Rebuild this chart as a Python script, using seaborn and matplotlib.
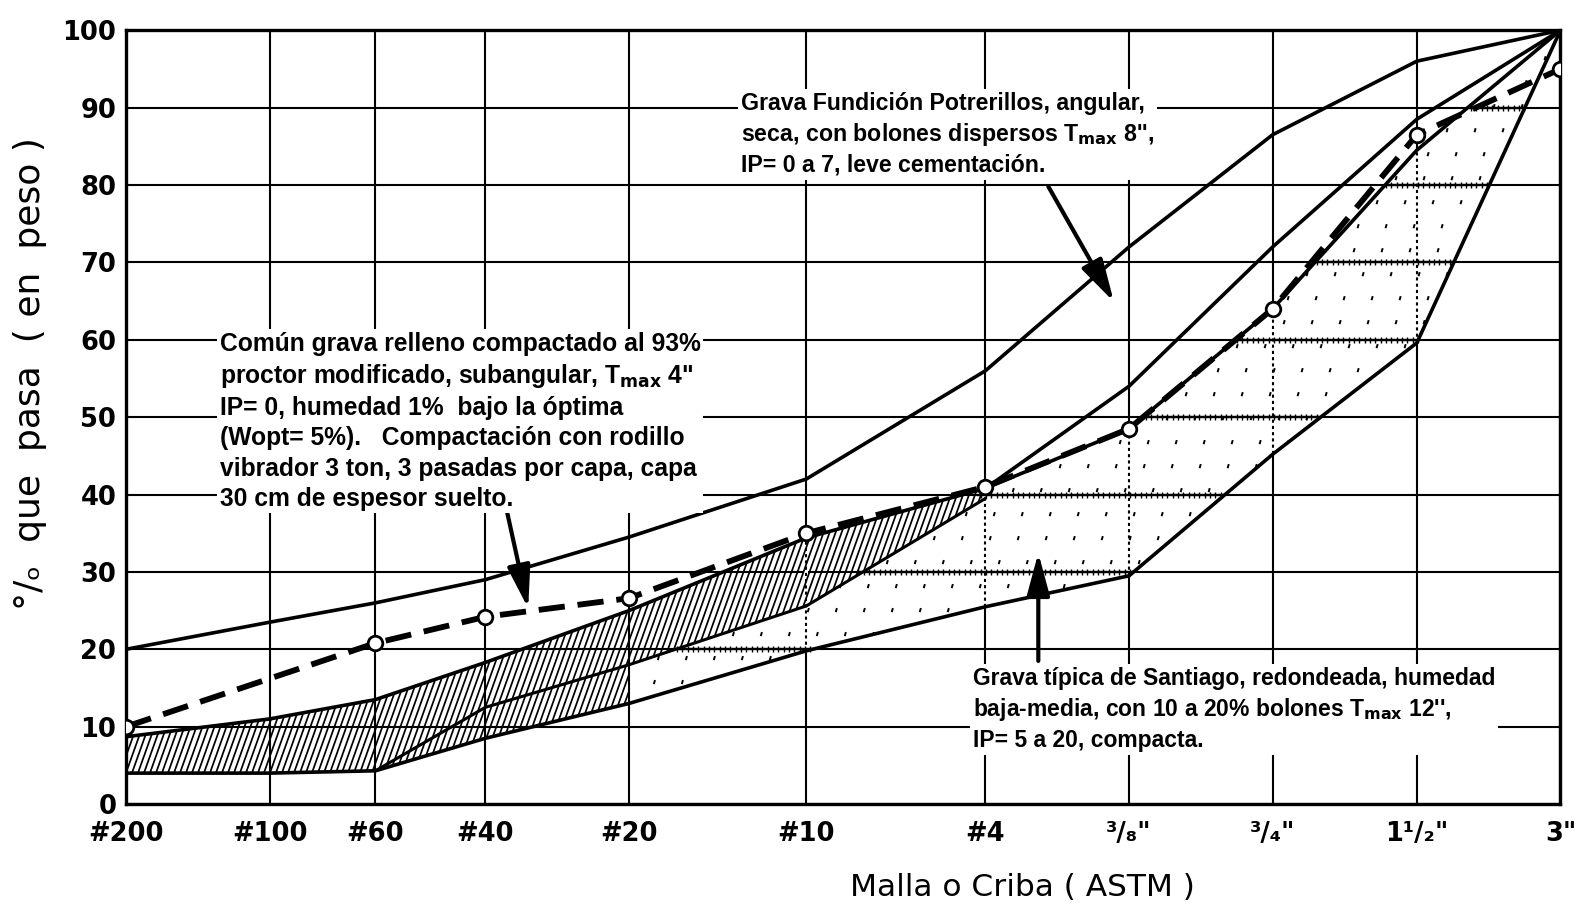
import numpy as np
import pandas as pd
import matplotlib
matplotlib.use("Agg")
import matplotlib.pyplot as plt
import seaborn as sns
from matplotlib.collections import LineCollection
from matplotlib.ticker import NullLocator

# ---------------- data ----------------
sieve_mm = [0.075, 0.15, 0.25, 0.425, 0.85, 2.0, 4.75, 9.5, 19.0, 38.1, 76.2]
sieve_labels = ["#200", "#100", "#60", "#40", "#20", "#10", "#4",
                "\u00b3/\u2088\"", "\u00b3/\u2084\"", "1\u00b9/\u2082\"", "3\""]
y_ticks = [0, 10, 20, 30, 40, 50, 60, 70, 80, 90, 100]

# Grava Fundición Potrerillos (band)
potrerillos_upper = [20, 23.5, 26, 29, 34.5, 42, 56, 72, 86.5, 96, 100]
potrerillos_lower_mm = [4.75, 9.5, 19.0, 38.1, 76.2]
potrerillos_lower = [40.8, 54, 72, 88.5, 100]

# Común grava relleno compactado (single curve, dashed)
relleno_mm = [0.075, 0.25, 0.425, 0.85, 2.0, 4.75, 9.5, 19.0, 38.1, 76.2]
relleno_pct = [10, 20.8, 24.2, 26.6, 35, 41, 48.5, 64, 86.5, 95]

# Grava típica de Santiago (band)
santiago_upper = [8.7, 11, 13.5, 18.3, 25, 34.4, 40.8, 48.5, 64, 84.5, 100]
santiago_lower = [4, 4, 4.3, 8.5, 13, 19.8, 25.5, 29.5, 45.2, 59.6, 100]
santiago_mid_mm = [0.25, 0.425, 0.85, 2.0, 4.75]
santiago_mid = [4.3, 12.5, 18, 25.6, 39.5]

# ---------------- style ----------------
sns.set_theme(style="white")
plt.rcParams["font.family"] = ["DejaVu Sans"]

fig = plt.figure(figsize=(15.81, 9.16), dpi=100)
ax = fig.add_axes([0.0797, 0.1222, 0.9073, 0.8448])
ax.set_xscale("log")
ax.set_xlim(sieve_mm[0], sieve_mm[-1])
ax.set_ylim(0, 100)

for s in ax.spines.values():
    s.set_color("black")
    s.set_linewidth(2.4)

ax.set_xticks(sieve_mm)
ax.xaxis.set_minor_locator(NullLocator())
ax.set_xticklabels(sieve_labels)
ax.set_yticks(y_ticks)
tick_fp = matplotlib.font_manager.FontProperties(
    family=["Liberation Sans Narrow", "DejaVu Sans"], weight="bold", size=18.5)
for lab in ax.get_xticklabels() + ax.get_yticklabels():
    lab.set_fontproperties(tick_fp)
ax.tick_params(axis="both", length=0, colors="black")
ax.tick_params(axis="x", pad=12)
ax.tick_params(axis="y", pad=7)
ax.grid(True, which="major", color="black", linewidth=1.5)
ax.set_axisbelow(True)

x_arr = np.array(sieve_mm)
up = np.array(santiago_upper)
lo = np.array(santiago_lower)
mid_full = np.interp(np.log10(x_arr), np.log10(santiago_mid_mm), santiago_mid,
                     left=np.nan, right=np.nan)
i20 = sieve_mm.index(0.85)
i10 = sieve_mm.index(2.0)
i4 = sieve_mm.index(4.75)

W, H = 1435.0, 774.0  # axes size in pixels


def clip_region(xs, y1, y2):
    coll = ax.fill_between(xs, y1, y2, facecolor="none", edgecolor="none", lw=0)
    return coll.get_paths()[0], coll.get_transform()


def steep_hatch(xs, y1, y2, spacing_px=6.0, slope=2.8, lw=1.25):
    path, tr = clip_region(xs, y1, y2)
    dx = (1.0 / slope) * H / W
    starts = np.arange(-dx - 0.02, 1.02, spacing_px / W)
    segs = [[(s0, 0.0), (s0 + dx, 1.0)] for s0 in starts]
    lc = LineCollection(segs, colors="black", linewidths=lw,
                        transform=ax.transAxes, zorder=2)
    ax.add_collection(lc)
    lc.set_clip_path(path, tr)


def stipple(xs, y1, y2, sx=28.0, sy=24.0, ln=4.0):
    path, tr = clip_region(xs, y1, y2)
    segs = []
    for r, yy in enumerate(np.arange(0, H, sy)):
        off = (r % 2) * sx / 2 + (r % 3) * 5
        for xx in np.arange(off, W, sx):
            segs.append([(xx / W, yy / H), ((xx + 1.2) / W, (yy + ln) / H)])
    lc = LineCollection(segs, colors="black", linewidths=1.4,
                        transform=ax.transAxes, zorder=2)
    ax.add_collection(lc)
    lc.set_clip_path(path, tr)


# hatched fine part of Santiago band
steep_hatch(x_arr[:i20 + 1], lo[:i20 + 1], up[:i20 + 1])
steep_hatch(x_arr[i20:i4 + 1], mid_full[i20:i4 + 1], up[i20:i4 + 1])

# stippled coarse part of Santiago band
stip_lo = lo[i20:]
stip_up = np.where(np.arange(i20, len(sieve_mm)) < i4, mid_full[i20:], up[i20:])
stipple(x_arr[i20:], stip_lo, stip_up)

# textured horizontal gridlines inside the stippled band
xf = np.logspace(np.log10(sieve_mm[i20]), np.log10(sieve_mm[-1]), 700)
lo_f = np.interp(np.log10(xf), np.log10(x_arr[i20:]), stip_lo)
up_f = np.interp(np.log10(xf), np.log10(x_arr[i20:]), stip_up)
for g in y_ticks[1:-1]:
    yy = np.where((lo_f < g) & (up_f > g), float(g), np.nan)
    if np.all(np.isnan(yy)):
        continue
    ax.plot(xf, yy, color="black", lw=1.7, marker="|", markersize=4,
            markeredgewidth=1.0, markevery=4, zorder=1.8)

# dotted vertical gridlines inside the stippled band
for i in range(i10, len(sieve_mm) - 1):
    ax.vlines(sieve_mm[i], lo[i], up[i], color="white", lw=3, zorder=1.6)
    ax.vlines(sieve_mm[i], lo[i], up[i], color="black", lw=1.5,
              linestyles=(0, (1.5, 1.5)), zorder=1.7)

# curves
line_kw = dict(color="black", estimator=None, sort=False, legend=False, ax=ax)
sns.lineplot(x=sieve_mm, y=potrerillos_upper, lw=2.6, zorder=4, **line_kw)
sns.lineplot(x=potrerillos_lower_mm, y=potrerillos_lower, lw=2.6, zorder=4, **line_kw)
sns.lineplot(x=sieve_mm, y=santiago_upper, lw=2.6, zorder=4, **line_kw)
sns.lineplot(x=sieve_mm, y=santiago_lower, lw=2.6, zorder=4, **line_kw)
sns.lineplot(x=santiago_mid_mm, y=santiago_mid, lw=2.2, zorder=4, **line_kw)
sns.lineplot(x=relleno_mm, y=relleno_pct, lw=4.2, zorder=5,
             linestyle=(0, (4.5, 2.2)), **line_kw)
sns.scatterplot(x=relleno_mm, y=relleno_pct, s=110, color="white",
                edgecolor="black", linewidth=2, zorder=6, ax=ax, legend=False)

# axis labels
fig.text(0.019, 0.5925, "\u00b0/\u2092  que  pasa  ( en  peso )", rotation=90,
         ha="center", va="center", fontsize=26, color="black")
fig.text(0.647, 0.031, "Malla o Criba ( ASTM )", ha="center", va="center",
         fontsize=22.5, color="black")

# annotations
note_kw = dict(fontweight="bold", color="black", ha="left", va="top",
               family=["Liberation Sans", "DejaVu Sans"], linespacing=1.32,
               bbox=dict(facecolor="white", edgecolor="none", pad=2), zorder=8)
fig.text(0.4688, 0.9,
         "Grava Fundición Potrerillos, angular,\n"
         "seca, con bolones dispersos T$_{\\mathbf{max}}$ 8'',\n"
         "IP= 0 a 7, leve cementación.", fontsize=16.7, **note_kw)
fig.text(0.139, 0.638,
         "Común grava relleno compactado al 93%\n"
         "proctor modificado, subangular, T$_{\\mathbf{max}}$ 4\"\n"
         "IP= 0, humedad 1%  bajo la óptima\n"
         "(Wopt= 5%).   Compactación con rodillo\n"
         "vibrador 3 ton, 3 pasadas por capa, capa\n"
         "30 cm de espesor suelto.", fontsize=17.7, **note_kw)
fig.text(0.6154, 0.272,
         "Grava típica de Santiago, redondeada, humedad\n"
         "baja-media, con 10 a 20% bolones T$_{\\mathbf{max}}$ 12'',\n"
         "IP= 5 a 20, compacta.", fontsize=16.5, **note_kw)

arrow_kw = dict(arrowstyle="-|>,head_length=1.3,head_width=0.35", lw=3,
                color="black", mutation_scale=20, shrinkA=0, shrinkB=0)
ax.annotate("", xy=(0.6887, 0.649), xytext=(0.643, 0.798),
            xycoords="axes fraction", arrowprops=arrow_kw, zorder=9)
ax.annotate("", xy=(0.2804, 0.253), xytext=(0.2656, 0.378),
            xycoords="axes fraction", arrowprops=arrow_kw, zorder=9)
ax.annotate("", xy=(0.636, 0.3246), xytext=(0.636, 0.185),
            xycoords="axes fraction", arrowprops=arrow_kw, zorder=9)

fig.savefig("out.png", dpi=100, facecolor="white")
